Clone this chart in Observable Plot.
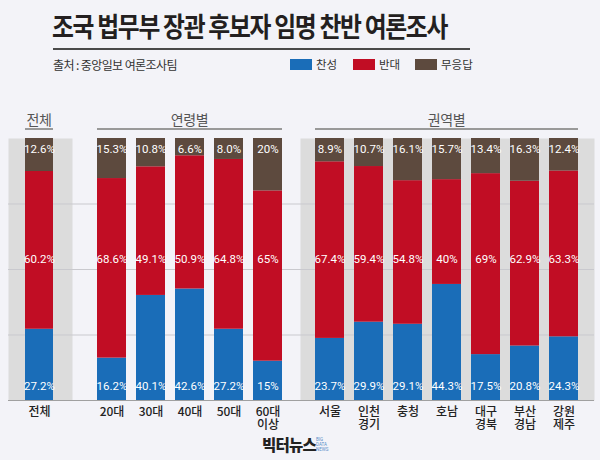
<!DOCTYPE html>
<html><head><meta charset="utf-8">
<script src="https://cdn.jsdelivr.net/npm/d3@7"></script>
<script src="https://cdn.jsdelivr.net/npm/@observablehq/plot@0.6"></script>
<style>
body{margin:0;background:#f3f3f8;}
#root{position:relative;width:600px;height:460px;background:#f3f3f8;overflow:hidden;font-family:"Noto Sans CJK KR","Noto Sans",sans-serif;}
.abs{position:absolute;white-space:nowrap;}
.title{left:52px;top:6px;font-size:27px;font-weight:700;color:#231f20;letter-spacing:-1.5px;transform:scaleX(0.882);transform-origin:left center;}
.rule{position:absolute;height:2px;background:#4a4a4a;}
.sub{left:53px;top:56px;font-size:12px;color:#333;letter-spacing:-0.6px;}
.leg{top:56px;font-size:11.5px;color:#333;}
.sw{position:absolute;width:22px;height:11px;top:59px;}
.hdr{font-size:14px;color:#555;top:109px;transform:translateX(-50%);letter-spacing:-0.3px;}
.hline{position:absolute;height:1.5px;background:#999;top:128px;}
.logo{top:433px;left:262px;font-size:15.5px;font-weight:900;color:#222;letter-spacing:-0.8px;}
.logo2{top:437px;left:316px;font-size:4.5px;line-height:5px;color:#5b8fc9;font-family:Roboto,sans-serif;}
</style></head><body><div id="root"></div>
<script>
const series = ["찬성","반대","무응답"];
const seriesColors = ["#1a6db8","#c10d24","#5d4a3e"];
const groupNames = ["전체","연령별","권역별"];

const totalCats = ["전체"];
const totalYes = ["27.2"];
const totalNo = ["60.2"];
const totalNA = ["12.6"];

const ageCats = ["20대","30대","40대","50대","60대\n이상"];
const ageYes = ["16.2","40.1","42.6","27.2","15"];
const ageNo = ["68.6","49.1","50.9","64.8","65"];
const ageNA = ["15.3","10.8","6.6","8.0","20"];

const regionCats = ["서울","인천\n경기","충청","호남","대구\n경북","부산\n경남","강원\n제주"];
const regionYes = ["23.7","29.9","29.1","44.3","17.5","20.8","24.3"];
const regionNo = ["67.4","59.4","54.8","40","69","62.9","63.3"];
const regionNA = ["8.9","10.7","16.1","15.7","13.4","16.3","12.4"];

const root = document.getElementById("root");
function add(html){ root.insertAdjacentHTML("beforeend", html); }

add(`<div class="abs title">조국 법무부 장관 후보자 임명 찬반 여론조사</div>`);
add(`<div class="rule" style="left:53px;width:417px;top:48px"></div>`);
add(`<div class="abs sub">출처 : 중앙일보 여론조사팀</div>`);
const legX = [290, 353, 415];
series.forEach((s,i)=>{
  add(`<div class="sw" style="left:${legX[i]}px;background:${seriesColors[i]}"></div>`);
  add(`<div class="abs leg" style="left:${legX[i]+26}px">${s}</div>`);
});

const labelPos = {"찬성":0.055, "반대":0.538, "무응답":0.958};
const svgTop = 138;

function panel(name, cats, yes, no, na, left, width, grey, po, align){
  const data = [];
  cats.forEach((c,i)=>{
    [yes[i], no[i], na[i]].forEach((v,k)=>data.push({cat:c, series:series[k], value:+v, label:v+"%"}));
  });
  const plot = Plot.plot({
    width, height:300, marginTop:0, marginBottom:38, marginLeft:0, marginRight:0,
    style:{background:"transparent", overflow:"visible", fontFamily:'"Noto Sans CJK KR", sans-serif'},
    x:{domain:cats, paddingInner:0.256, paddingOuter:po, align, label:null, axis:null},
    y:{domain:[0,1], axis:null},
    color:{domain:series, range:seriesColors},
    marks:[
      grey ? Plot.frame({fill:"#dcdcdc", stroke:null}) : null,
      Plot.ruleY([0.25,0.5,0.75], {stroke:"#c9c9ce", strokeWidth:1}),
      Plot.barY(data, Plot.stackY({x:"cat", y:"value", fill:"series", offset:"normalize"})),
      Plot.ruleY([0], {stroke:"#a0a0a0", strokeWidth:1.2}),
      Plot.text(data, {x:"cat", y:d=>labelPos[d.series], text:"label", fill:"white", fontSize:11.5,
        fontFamily:'"Liberation Sans Narrow", Roboto, sans-serif', letterSpacing:"-0.3px"}),
      Plot.text(cats, {x:d=>d, text:d=>d, frameAnchor:"bottom", lineAnchor:"top", dy:6,
        fontSize:12, lineHeight:1.08, fill:"#222", fontWeight:500})
    ].filter(Boolean)
  });
  plot.style.position = "absolute";
  plot.style.left = left + "px";
  plot.style.top = svgTop + "px";
  root.appendChild(plot);
  const sx = plot.scale("x");
  const x0 = left + sx.apply(cats[0]);
  const x1 = left + sx.apply(cats[cats.length-1]) + sx.bandwidth;
  add(`<div class="abs hdr" style="left:${(x0+x1)/2}px">${name}</div>`);
  add(`<div class="hline" style="left:${x0}px;width:${x1-x0}px"></div>`);
}

panel(groupNames[0], totalCats, totalYes, totalNo, totalNA, 8, 64, true, 0.478, 0.472);
panel(groupNames[1], ageCats, ageYes, ageNo, ageNA, 72, 228, false, 0.551, 0.581);
panel(groupNames[2], regionCats, regionYes, regionNo, regionNA, 300, 294, true, 0.397, 0.484);

add(`<div class="abs logo">빅터뉴스</div>`);
add(`<div class="abs logo2">BIG<br>DATA<br>NEWS</div>`);
</script></body></html>
